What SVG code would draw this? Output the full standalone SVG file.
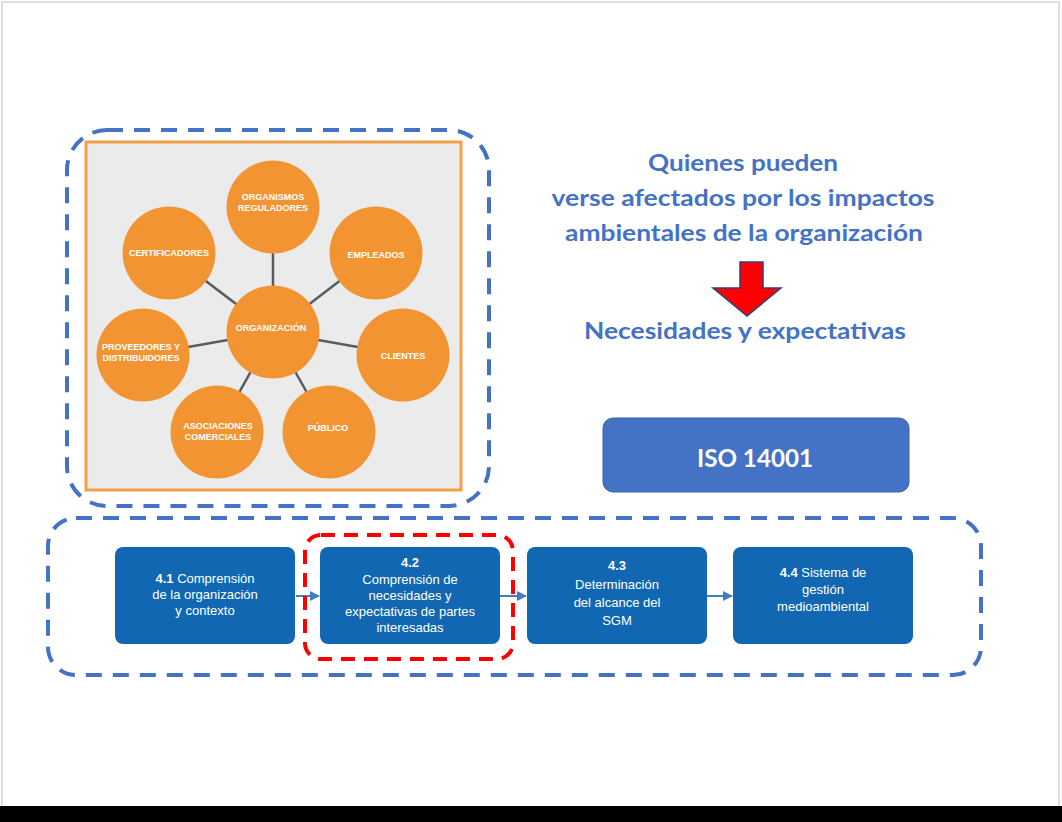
<svg xmlns="http://www.w3.org/2000/svg" width="1062" height="822" viewBox="0 0 1062 822">
  <defs>
    <style>
      .page { fill: #ffffff; stroke: #d4d4d4; stroke-width: 1.5; }
      .frame-blue { fill: none; stroke: #4472c4; stroke-width: 4; stroke-dasharray: 16 11; }
      .frame-red { fill: none; stroke: #ff0000; stroke-width: 4; stroke-dasharray: 14 9; }
      .panel { fill: #ebebec; stroke: #f4a046; stroke-width: 3; }
      .spoke { stroke: #555c63; stroke-width: 2.5; }
      .bubble { fill: #f29432; }
      .bubble-text { font-family: "Liberation Sans", Arial, sans-serif; font-weight: bold; font-size: 9px; fill: #ffffff; text-anchor: middle; }
      .headline { font-family: Lato, "Open Sans", sans-serif; font-weight: bold; font-size: 22px; fill: #4472c4; text-anchor: middle; }
      .iso-box { fill: #4472c4; stroke: #3a63ad; stroke-width: 1; }
      .iso-text { font-family: Lato, "Open Sans", sans-serif; font-weight: bold; font-size: 25px; fill: #ffffff; text-anchor: middle; }
      .step { fill: #1167b1; }
      .step-text { font-family: "Liberation Sans", Arial, sans-serif; font-size: 13px; fill: #ffffff; text-anchor: middle; }
      .step-text .num { font-weight: bold; }
      .flow { stroke: #3f7fbf; stroke-width: 2; fill: none; marker-end: url(#flowHead); }
    </style>
    <marker id="flowHead" viewBox="0 0 10 10" refX="9" refY="5" markerWidth="5" markerHeight="5" orient="auto" markerUnits="strokeWidth">
      <path d="M0,0 L10,5 L0,10 z" fill="#3f7fbf"/>
    </marker>
  </defs>

  <!-- slide page -->
  <rect class="page" x="2" y="2" width="1057" height="820"/>
  <rect x="0" y="806" width="1062" height="16" fill="#000000"/>

  <!-- stakeholder map -->
  <g id="stakeholder-map">
    <rect class="panel" x="86" y="142" width="375" height="348"/>
    <g id="spokes">
      <line class="spoke" x1="273" y1="332" x2="273" y2="207"/>
      <line class="spoke" x1="273" y1="332" x2="169" y2="253"/>
      <line class="spoke" x1="273" y1="332" x2="376" y2="253"/>
      <line class="spoke" x1="273" y1="332" x2="143" y2="355"/>
      <line class="spoke" x1="273" y1="332" x2="403" y2="355"/>
      <line class="spoke" x1="273" y1="332" x2="217" y2="432"/>
      <line class="spoke" x1="273" y1="332" x2="329" y2="432"/>
    </g>
    <g id="n-organismos">
      <circle class="bubble" cx="273" cy="207" r="46.5"/>
      <text class="bubble-text" x="273" y="200">ORGANISMOS</text>
      <text class="bubble-text" x="273" y="211">REGULADORES</text>
    </g>
    <g id="n-certificadores">
      <circle class="bubble" cx="169" cy="253" r="46.5"/>
      <text class="bubble-text" x="169" y="255.5">CERTIFICADORES</text>
    </g>
    <g id="n-empleados">
      <circle class="bubble" cx="376" cy="253" r="46.5"/>
      <text class="bubble-text" x="376" y="257.5">EMPLEADOS</text>
    </g>
    <g id="n-organizacion">
      <circle class="bubble" cx="273" cy="332" r="46.5"/>
      <text class="bubble-text" x="271" y="331">ORGANIZACIÓN</text>
    </g>
    <g id="n-proveedores">
      <circle class="bubble" cx="143" cy="355" r="46.5"/>
      <text class="bubble-text" x="141" y="350">PROVEEDORES Y</text>
      <text class="bubble-text" x="141" y="361">DISTRIBUIDORES</text>
    </g>
    <g id="n-clientes">
      <circle class="bubble" cx="403" cy="355" r="46.5"/>
      <text class="bubble-text" x="403" y="358.5">CLIENTES</text>
    </g>
    <g id="n-asociaciones">
      <circle class="bubble" cx="217" cy="432" r="46.5"/>
      <text class="bubble-text" x="218" y="428.5">ASOCIACIONES</text>
      <text class="bubble-text" x="218" y="440">COMERCIALES</text>
    </g>
    <g id="n-publico">
      <circle class="bubble" cx="329" cy="432" r="46.5"/>
      <text class="bubble-text" x="328" y="430.5">PÚBLICO</text>
    </g>
  </g>
  <rect id="map-outline" class="frame-blue" x="67" y="130" width="422" height="376" rx="40" ry="40"/>

  <!-- explanatory headline -->
  <g id="headline">
    <text class="headline" x="743" y="171" textLength="190" lengthAdjust="spacingAndGlyphs">Quienes pueden</text>
    <text class="headline" x="743" y="206" textLength="383" lengthAdjust="spacingAndGlyphs">verse afectados por los impactos</text>
    <text class="headline" x="744" y="241" textLength="358" lengthAdjust="spacingAndGlyphs">ambientales de la organización</text>
  </g>
  <g id="down-arrow">
    <path d="M740,262 H763 V288 H781 L747,316 L713,288 H740 Z" fill="#ff0000" stroke="#2f3f78" stroke-width="1.5" stroke-linejoin="miter"/>
  </g>
  <g id="needs">
    <text class="headline" x="745" y="339" textLength="322" lengthAdjust="spacingAndGlyphs">Necesidades y expectativas</text>
  </g>

  <!-- standard badge -->
  <g id="iso">
    <rect class="iso-box" x="603" y="418" width="306" height="74" rx="10" ry="10"/>
    <text class="iso-text" x="755" y="467" textLength="116" lengthAdjust="spacingAndGlyphs">ISO 14001</text>
  </g>

  <!-- clause 4 process -->
  <rect id="process-outline" class="frame-blue" x="48" y="518" width="933" height="157" rx="28" ry="28"/>

  <g id="connectors">
    <line class="flow" x1="296" y1="596" x2="319" y2="596"/>
    <line class="flow" x1="500" y1="596" x2="526" y2="596"/>
    <line class="flow" x1="707" y1="596" x2="732" y2="596"/>
  </g>

  <g id="step-41">
    <rect class="step" x="115" y="547" width="180" height="97" rx="8" ry="8"/>
    <text class="step-text" x="205" y="583"><tspan class="num">4.1</tspan> Comprensión</text>
    <text class="step-text" x="205" y="599">de la organización</text>
    <text class="step-text" x="205" y="615">y contexto</text>
  </g>
  <g id="step-42">
    <rect class="step" x="320" y="547" width="180" height="97" rx="8" ry="8"/>
    <text class="step-text num" x="410" y="567" font-weight="bold">4.2</text>
    <text class="step-text" x="410" y="584">Comprensión de</text>
    <text class="step-text" x="410" y="600">necesidades y</text>
    <text class="step-text" x="410" y="616">expectativas de partes</text>
    <text class="step-text" x="410" y="632">interesadas</text>
  </g>
  <g id="step-43">
    <rect class="step" x="527" y="547" width="180" height="97" rx="8" ry="8"/>
    <text class="step-text" x="617" y="570" font-weight="bold">4.3</text>
    <text class="step-text" x="617" y="589">Determinación</text>
    <text class="step-text" x="617" y="607">del alcance del</text>
    <text class="step-text" x="617" y="625">SGM</text>
  </g>
  <g id="step-44">
    <rect class="step" x="733" y="547" width="180" height="97" rx="8" ry="8"/>
    <text class="step-text" x="823" y="577"><tspan class="num">4.4</tspan> Sistema de</text>
    <text class="step-text" x="823" y="594">gestión</text>
    <text class="step-text" x="823" y="611">medioambiental</text>
  </g>

  <rect id="focus-outline" class="frame-red" x="305" y="535" width="208" height="124" rx="16" ry="16"/>
</svg>
